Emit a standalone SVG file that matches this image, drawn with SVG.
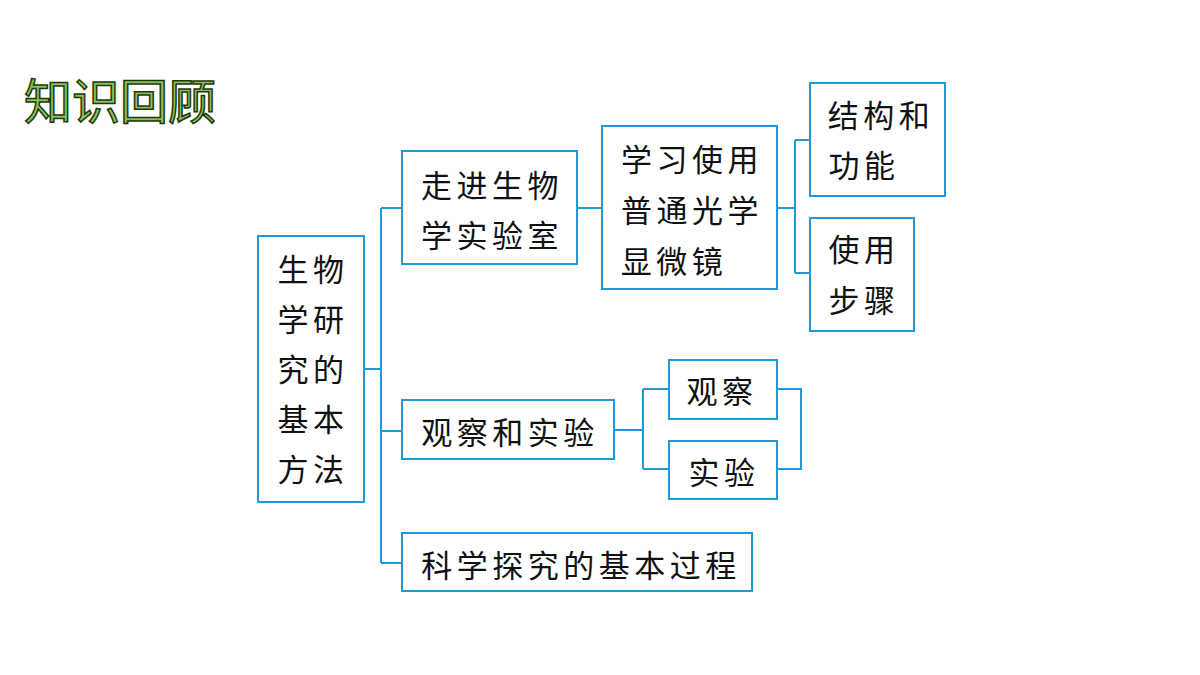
<svg xmlns="http://www.w3.org/2000/svg" width="1200" height="675" viewBox="0 0 1200 675">
<style>
rect{fill:#fff;stroke:#1f9ad6;stroke-width:2}
.c{fill:none;stroke:#1f9ad6;stroke-width:2}
text{font-family:"Noto Sans CJK SC","Noto Sans",sans-serif;font-size:31px;fill:#111;text-anchor:middle;dominant-baseline:central;letter-spacing:4.5px}
.t{font-size:48px;fill:#8cc060;stroke:#1e3a08;stroke-width:1.5;text-anchor:start;letter-spacing:0}
</style>
<rect x="0" y="0" width="1200" height="675" style="fill:#fff;stroke:none"/>
<text class="t" x="24" y="98">知识回顾</text>
<g id="connectors">
<path class="c" d="M364 369H381M381 208V563M381 208H402M381 431H402M381 563H402"/>
<path class="c" d="M577 208H602"/>
<path class="c" d="M777 208H795M795 140V273M795 140H810M795 273H810"/>
<path class="c" d="M614 430H643M643 389V469M643 389H669M643 469H669"/>
<path class="c" d="M777 389H801V469H777"/>
</g>
<g id="n0"><rect x="258" y="236" width="106" height="266"/><text x="313" y="267">生物</text><text x="313" y="317">学研</text><text x="313" y="367">究的</text><text x="313" y="417">基本</text><text x="313" y="467">方法</text></g>
<g id="n1"><rect x="402" y="151" width="175" height="113"/><text x="492" y="183">走进生物</text><text x="492" y="233">学实验室</text></g>
<g id="n2"><rect x="602" y="126" width="175" height="163"/><text x="692" y="157">学习使用</text><text x="692" y="208">普通光学</text><text x="674" y="259">显微镜</text></g>
<g id="n3"><rect x="810" y="83" width="135" height="113"/><text x="881" y="113">结构和</text><text x="864" y="163">功能</text></g>
<g id="n4"><rect x="810" y="218" width="104" height="113"/><text x="864" y="247">使用</text><text x="864" y="298">步骤</text></g>
<g id="n5"><rect x="402" y="400" width="212" height="59"/><text x="510" y="430">观察和实验</text></g>
<g id="n6"><rect x="669" y="360" width="108" height="59"/><text x="722" y="389">观察</text></g>
<g id="n7"><rect x="669" y="441" width="108" height="58"/><text x="724" y="470">实验</text></g>
<g id="n8"><rect x="402" y="533" width="350" height="58"/><text x="581" y="563">科学探究的基本过程</text></g>
</svg>
